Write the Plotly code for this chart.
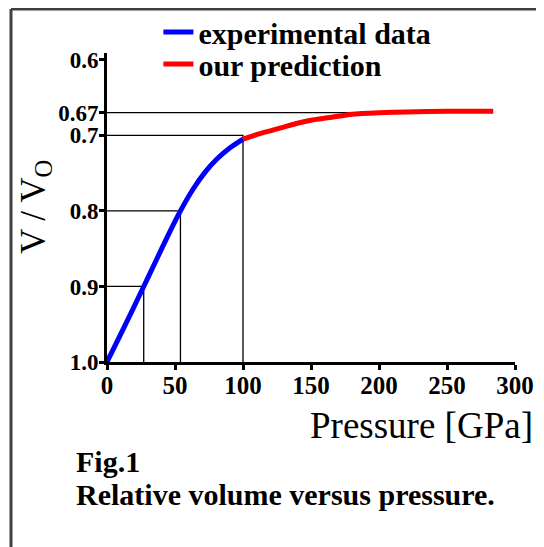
import plotly.graph_objects as go

# ---- data ----
exp_pressure = [0, 9, 18, 27, 36, 45, 54, 63, 72, 81, 90, 100]
exp_volume = [1.0, 0.967, 0.934, 0.9, 0.866, 0.832, 0.8, 0.772, 0.749, 0.731, 0.717, 0.705]

pred_pressure = [100, 110, 120, 130, 140, 150, 165, 180, 200, 220, 250, 284]
pred_volume = [0.705, 0.699, 0.694, 0.689, 0.684, 0.680, 0.676, 0.672, 0.670, 0.669, 0.668, 0.668]

guide_levels = [0.9, 0.8, 0.7]
guide_pressures = [27, 54, 100]
asymptote_level = 0.67
asymptote_end = 180

x_ticks = [0, 50, 100, 150, 200, 250, 300]
y_ticks = [0.6, 0.67, 0.7, 0.8, 0.9, 1.0]
y_tick_text = ["0.6", "0.67", "0.7", "0.8", "0.9", "1.0"]

SERIF = "Liberation Serif"

fig = go.Figure()

# thin guide lines
for lvl, p in zip(guide_levels, guide_pressures):
    fig.add_trace(go.Scatter(x=[0, p, p], y=[lvl, lvl, 1.0], mode="lines",
                             line=dict(color="black", width=1.3),
                             showlegend=False, hoverinfo="skip"))
fig.add_trace(go.Scatter(x=[0, asymptote_end], y=[asymptote_level, asymptote_level],
                         mode="lines", line=dict(color="black", width=1.3),
                         showlegend=False, hoverinfo="skip"))

fig.add_trace(go.Scatter(x=exp_pressure, y=exp_volume, mode="lines",
                         name="experimental data", legend="legend",
                         line=dict(color="#0000ff", width=5, shape="spline", smoothing=0.5)))
fig.add_trace(go.Scatter(x=pred_pressure, y=pred_volume, mode="lines",
                         name="our prediction", legend="legend2",
                         line=dict(color="#ff0000", width=5, shape="spline", smoothing=0.5)))

fig.update_xaxes(range=[0, 300], tickvals=x_ticks, showgrid=False, zeroline=False,
                 showline=True, linecolor="black", linewidth=3,
                 ticks="outside", ticklen=5, tickwidth=2.5, tickcolor="black",
                 ticklabelstandoff=-6,
                 tickfont=dict(family=SERIF, size=25, color="black", weight="bold"))
fig.update_yaxes(range=[1.0, 0.591], tickvals=y_ticks, ticktext=y_tick_text,
                 showgrid=False, zeroline=False,
                 showline=True, linecolor="black", linewidth=3,
                 ticks="outside", ticklen=5, tickwidth=2.5, tickcolor="black",
                 ticklabelstandoff=-4,
                 tickfont=dict(family=SERIF, size=23, color="black", weight="bold"))

# frame (top and left edges)
fig.add_shape(type="line", xref="paper", yref="paper", x0=-0.2353, x1=1.1, y0=1.1425, y1=1.1425,
              line=dict(color="#404040", width=3))
fig.add_shape(type="line", xref="paper", yref="paper", x0=-0.2353, x1=-0.2353, y0=1.1425, y1=-0.62,
              line=dict(color="#404040", width=3))

annotations = [
    dict(text="Pressure [GPa]", x=1.048, y=-0.207, xref="paper", yref="paper",
         xanchor="right", yanchor="middle", showarrow=False,
         font=dict(family=SERIF, size=37, color="black")),
    dict(text="V / V<sub>O</sub>", x=-0.175, y=0.50, xref="paper", yref="paper",
         xanchor="center", yanchor="middle", textangle=-90, showarrow=False,
         font=dict(family=SERIF, size=35, color="black")),
    dict(text="Fig.1", x=-0.081, y=-0.321, xref="paper", yref="paper",
         xanchor="left", yanchor="middle", showarrow=False,
         font=dict(family=SERIF, size=30, color="black", weight="bold")),
    dict(text="Relative volume versus pressure.", x=-0.081, y=-0.429, xref="paper", yref="paper",
         xanchor="left", yanchor="middle", showarrow=False,
         font=dict(family=SERIF, size=30, color="black", weight="bold")),
]

legend_style = dict(xanchor="left", yanchor="middle", bgcolor="rgba(0,0,0,0)", borderwidth=0,
                    font=dict(family=SERIF, size=30, color="black", weight="bold"),
                    itemwidth=30)

fig.update_layout(
    width=536, height=539,
    margin=dict(l=99, r=29, t=45, b=185, autoexpand=False),
    paper_bgcolor="white", plot_bgcolor="white",
    showlegend=True,
    legend=dict(x=0.126, y=1.068, **legend_style),
    legend2=dict(x=0.126, y=0.964, **legend_style),
    annotations=annotations,
)

fig.write_html("out.html")
